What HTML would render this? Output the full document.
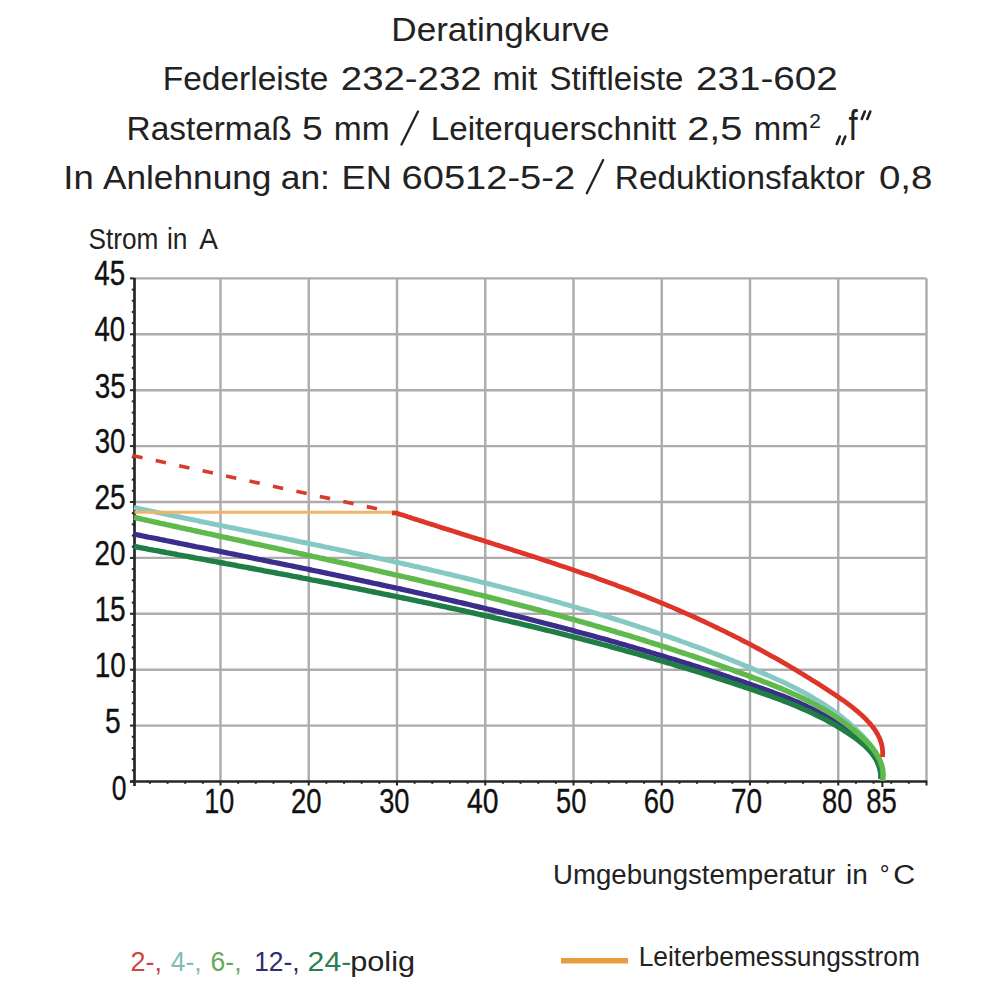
<!DOCTYPE html>
<html><head><meta charset="utf-8"><style>
html,body{margin:0;padding:0;background:#fff;width:1000px;height:1000px;overflow:hidden}
svg{display:block}
text{font-family:"Liberation Sans",sans-serif}
</style></head><body>
<svg width="1000" height="1000" viewBox="0 0 1000 1000">
<rect width="1000" height="1000" fill="#fff"/>
<g fill="#222">
<text font-size="34" transform="translate(391.30,40.90) scale(1.0319,1)">Deratingkurve</text>
<text font-size="34" transform="translate(162.80,90.10) scale(0.9847,1)">Federleiste</text>
<text font-size="34" transform="translate(340.81,90.10) scale(1.1284,1)">232-232</text>
<text font-size="34" transform="translate(492.53,90.10) scale(0.9882,1)">mit</text>
<text font-size="34" transform="translate(549.54,90.10) scale(0.9704,1)">Stiftleiste</text>
<text font-size="34" transform="translate(696.05,90.10) scale(1.1354,1)">231-602</text>
<text font-size="34" transform="translate(126.56,139.70) scale(0.9817,1)">Rastermaß</text>
<text font-size="34" transform="translate(302.11,139.70) scale(1.0938,1)">5</text>
<text font-size="34" transform="translate(333.79,139.70) scale(0.9856,1)">mm</text>
<text font-size="34" transform="translate(430.82,139.70) scale(0.9764,1)">Leiterquerschnitt</text>
<text font-size="34" transform="translate(687.15,139.70) scale(1.1685,1)">2,5</text>
<text font-size="34" transform="translate(753.78,139.70) scale(0.9692,1)">mm</text>
<text font-size="20" transform="translate(809.26,127.70) scale(1.0444,1)">2</text>
<text font-size="42" transform="translate(848.61,139.70) scale(0.7818,1)">f</text>
<text font-size="34" transform="translate(63.28,188.70) scale(1.0739,1)">In</text>
<text font-size="34" transform="translate(102.90,188.70) scale(1.0368,1)">Anlehnung</text>
<text font-size="34" transform="translate(280.74,188.70) scale(1.0400,1)">an:</text>
<text font-size="34" transform="translate(341.50,188.70) scale(1.0651,1)">EN</text>
<text font-size="34" transform="translate(401.52,188.70) scale(1.1204,1)">60512-5-2</text>
<text font-size="34" transform="translate(614.86,188.70) scale(0.9805,1)">Reduktionsfaktor</text>
<text font-size="34" transform="translate(878.90,188.70) scale(1.1326,1)">0,8</text>
<text font-size="29" transform="translate(88.54,249.10) scale(0.9041,1)">Strom</text>
<text font-size="29" transform="translate(166.98,249.10) scale(0.9081,1)">in</text>
<text font-size="29" transform="translate(199.20,249.10) scale(0.9684,1)">A</text>
<text font-size="28" transform="translate(553.03,884.20) scale(0.9859,1)">Umgebungstemperatur</text>
<text font-size="28" transform="translate(846.00,884.20) scale(1.0000,1)">in</text>
<text font-size="28" transform="translate(879.69,884.20) scale(0.8750,1)">°</text>
<text font-size="28" transform="translate(893.37,884.20) scale(1.0857,1)">C</text>
<text font-size="28.5" transform="translate(638.69,966.20) scale(0.9249,1)">Leiterbemessungsstrom</text>
<text font-size="28.5" fill="#cf4540" transform="translate(130.58,971.20) scale(0.9483,1)">2-,</text>
<text font-size="28.5" fill="#7fbdb6" transform="translate(170.74,971.20) scale(0.9267,1)">4-,</text>
<text font-size="28.5" fill="#6aa858" transform="translate(210.60,971.20) scale(0.9310,1)">6-,</text>
<text font-size="28.5" fill="#2f2d6e" transform="translate(254.15,971.20) scale(0.9258,1)">12-,</text>
<text font-size="28.5" fill="#2c7d55" transform="translate(307.61,971.20) scale(1.0597,1)">24-</text>
<text font-size="28.5" transform="translate(350.25,971.20) scale(1.0761,1)">polig</text>
</g>
<g stroke="#222" stroke-width="2.3" stroke-linecap="round"><line x1="401.5" y1="144.5" x2="418" y2="111.5"/><line x1="586.8" y1="193.2" x2="603.2" y2="160"/></g>
<g stroke="#222" stroke-width="2.6" stroke-linecap="round"><line x1="836.8" y1="144" x2="839.8" y2="136.5"/><line x1="842.3" y1="144" x2="845.3" y2="136.5"/><line x1="861.8" y1="119" x2="864.8" y2="111.5"/><line x1="867.3" y1="119" x2="870.3" y2="111.5"/></g>
<g stroke="#acacac" stroke-width="2.4">
<line x1="134.5" y1="725.60" x2="926.50" y2="725.60"/>
<line x1="134.5" y1="669.70" x2="926.50" y2="669.70"/>
<line x1="134.5" y1="613.80" x2="926.50" y2="613.80"/>
<line x1="134.5" y1="557.90" x2="926.50" y2="557.90"/>
<line x1="134.5" y1="502.00" x2="926.50" y2="502.00"/>
<line x1="134.5" y1="446.10" x2="926.50" y2="446.10"/>
<line x1="134.5" y1="390.20" x2="926.50" y2="390.20"/>
<line x1="134.5" y1="334.30" x2="926.50" y2="334.30"/>
<line x1="134.5" y1="278.40" x2="926.50" y2="278.40"/>
<line x1="220.50" y1="278.40" x2="220.50" y2="781.5"/>
<line x1="308.75" y1="278.40" x2="308.75" y2="781.5"/>
<line x1="397.00" y1="278.40" x2="397.00" y2="781.5"/>
<line x1="485.25" y1="278.40" x2="485.25" y2="781.5"/>
<line x1="573.50" y1="278.40" x2="573.50" y2="781.5"/>
<line x1="661.75" y1="278.40" x2="661.75" y2="781.5"/>
<line x1="750.00" y1="278.40" x2="750.00" y2="781.5"/>
<line x1="838.25" y1="278.40" x2="838.25" y2="781.5"/>
<line x1="926.50" y1="278.40" x2="926.50" y2="781.5"/>
</g>
<g stroke="#262626" stroke-width="2.7">
<line x1="134.5" y1="277.90" x2="134.5" y2="786"/>
<line x1="130" y1="781.5" x2="927.30" y2="781.5"/>
</g>
<g stroke="#262626" stroke-width="2">
<line x1="130" y1="781.50" x2="134.5" y2="781.50"/>
<line x1="131.8" y1="770.32" x2="134.5" y2="770.32"/>
<line x1="131.8" y1="759.14" x2="134.5" y2="759.14"/>
<line x1="131.8" y1="747.96" x2="134.5" y2="747.96"/>
<line x1="131.8" y1="736.78" x2="134.5" y2="736.78"/>
<line x1="130" y1="725.60" x2="134.5" y2="725.60"/>
<line x1="131.8" y1="714.42" x2="134.5" y2="714.42"/>
<line x1="131.8" y1="703.24" x2="134.5" y2="703.24"/>
<line x1="131.8" y1="692.06" x2="134.5" y2="692.06"/>
<line x1="131.8" y1="680.88" x2="134.5" y2="680.88"/>
<line x1="130" y1="669.70" x2="134.5" y2="669.70"/>
<line x1="131.8" y1="658.52" x2="134.5" y2="658.52"/>
<line x1="131.8" y1="647.34" x2="134.5" y2="647.34"/>
<line x1="131.8" y1="636.16" x2="134.5" y2="636.16"/>
<line x1="131.8" y1="624.98" x2="134.5" y2="624.98"/>
<line x1="130" y1="613.80" x2="134.5" y2="613.80"/>
<line x1="131.8" y1="602.62" x2="134.5" y2="602.62"/>
<line x1="131.8" y1="591.44" x2="134.5" y2="591.44"/>
<line x1="131.8" y1="580.26" x2="134.5" y2="580.26"/>
<line x1="131.8" y1="569.08" x2="134.5" y2="569.08"/>
<line x1="130" y1="557.90" x2="134.5" y2="557.90"/>
<line x1="131.8" y1="546.72" x2="134.5" y2="546.72"/>
<line x1="131.8" y1="535.54" x2="134.5" y2="535.54"/>
<line x1="131.8" y1="524.36" x2="134.5" y2="524.36"/>
<line x1="131.8" y1="513.18" x2="134.5" y2="513.18"/>
<line x1="130" y1="502.00" x2="134.5" y2="502.00"/>
<line x1="131.8" y1="490.82" x2="134.5" y2="490.82"/>
<line x1="131.8" y1="479.64" x2="134.5" y2="479.64"/>
<line x1="131.8" y1="468.46" x2="134.5" y2="468.46"/>
<line x1="131.8" y1="457.28" x2="134.5" y2="457.28"/>
<line x1="130" y1="446.10" x2="134.5" y2="446.10"/>
<line x1="131.8" y1="434.92" x2="134.5" y2="434.92"/>
<line x1="131.8" y1="423.74" x2="134.5" y2="423.74"/>
<line x1="131.8" y1="412.56" x2="134.5" y2="412.56"/>
<line x1="131.8" y1="401.38" x2="134.5" y2="401.38"/>
<line x1="130" y1="390.20" x2="134.5" y2="390.20"/>
<line x1="131.8" y1="379.02" x2="134.5" y2="379.02"/>
<line x1="131.8" y1="367.84" x2="134.5" y2="367.84"/>
<line x1="131.8" y1="356.66" x2="134.5" y2="356.66"/>
<line x1="131.8" y1="345.48" x2="134.5" y2="345.48"/>
<line x1="130" y1="334.30" x2="134.5" y2="334.30"/>
<line x1="131.8" y1="323.12" x2="134.5" y2="323.12"/>
<line x1="131.8" y1="311.94" x2="134.5" y2="311.94"/>
<line x1="131.8" y1="300.76" x2="134.5" y2="300.76"/>
<line x1="131.8" y1="289.58" x2="134.5" y2="289.58"/>
<line x1="130" y1="278.40" x2="134.5" y2="278.40"/>
<line x1="149.90" y1="781.5" x2="149.90" y2="783.8"/>
<line x1="167.55" y1="781.5" x2="167.55" y2="783.8"/>
<line x1="185.20" y1="781.5" x2="185.20" y2="783.8"/>
<line x1="202.85" y1="781.5" x2="202.85" y2="783.8"/>
<line x1="220.50" y1="781.5" x2="220.50" y2="785.5"/>
<line x1="238.15" y1="781.5" x2="238.15" y2="783.8"/>
<line x1="255.80" y1="781.5" x2="255.80" y2="783.8"/>
<line x1="273.45" y1="781.5" x2="273.45" y2="783.8"/>
<line x1="291.10" y1="781.5" x2="291.10" y2="783.8"/>
<line x1="308.75" y1="781.5" x2="308.75" y2="785.5"/>
<line x1="326.40" y1="781.5" x2="326.40" y2="783.8"/>
<line x1="344.05" y1="781.5" x2="344.05" y2="783.8"/>
<line x1="361.70" y1="781.5" x2="361.70" y2="783.8"/>
<line x1="379.35" y1="781.5" x2="379.35" y2="783.8"/>
<line x1="397.00" y1="781.5" x2="397.00" y2="785.5"/>
<line x1="414.65" y1="781.5" x2="414.65" y2="783.8"/>
<line x1="432.30" y1="781.5" x2="432.30" y2="783.8"/>
<line x1="449.95" y1="781.5" x2="449.95" y2="783.8"/>
<line x1="467.60" y1="781.5" x2="467.60" y2="783.8"/>
<line x1="485.25" y1="781.5" x2="485.25" y2="785.5"/>
<line x1="502.90" y1="781.5" x2="502.90" y2="783.8"/>
<line x1="520.55" y1="781.5" x2="520.55" y2="783.8"/>
<line x1="538.20" y1="781.5" x2="538.20" y2="783.8"/>
<line x1="555.85" y1="781.5" x2="555.85" y2="783.8"/>
<line x1="573.50" y1="781.5" x2="573.50" y2="785.5"/>
<line x1="591.15" y1="781.5" x2="591.15" y2="783.8"/>
<line x1="608.80" y1="781.5" x2="608.80" y2="783.8"/>
<line x1="626.45" y1="781.5" x2="626.45" y2="783.8"/>
<line x1="644.10" y1="781.5" x2="644.10" y2="783.8"/>
<line x1="661.75" y1="781.5" x2="661.75" y2="785.5"/>
<line x1="679.40" y1="781.5" x2="679.40" y2="783.8"/>
<line x1="697.05" y1="781.5" x2="697.05" y2="783.8"/>
<line x1="714.70" y1="781.5" x2="714.70" y2="783.8"/>
<line x1="732.35" y1="781.5" x2="732.35" y2="783.8"/>
<line x1="750.00" y1="781.5" x2="750.00" y2="785.5"/>
<line x1="767.65" y1="781.5" x2="767.65" y2="783.8"/>
<line x1="785.30" y1="781.5" x2="785.30" y2="783.8"/>
<line x1="802.95" y1="781.5" x2="802.95" y2="783.8"/>
<line x1="820.60" y1="781.5" x2="820.60" y2="783.8"/>
<line x1="838.25" y1="781.5" x2="838.25" y2="785.5"/>
<line x1="855.90" y1="781.5" x2="855.90" y2="783.8"/>
<line x1="873.55" y1="781.5" x2="873.55" y2="783.8"/>
<line x1="891.20" y1="781.5" x2="891.20" y2="783.8"/>
<line x1="908.85" y1="781.5" x2="908.85" y2="783.8"/>
<line x1="926.50" y1="781.5" x2="926.50" y2="785.5"/>
<line x1="882.37" y1="781.5" x2="882.37" y2="787"/>
</g>
<g fill="#111" font-size="35.8" stroke="#111" stroke-width="0.35">
<text transform="translate(94.22,285.45) scale(0.7760,1)">45</text>
<text transform="translate(94.47,340.75) scale(0.7722,1)">40</text>
<text transform="translate(94.63,398.00) scale(0.7796,1)">35</text>
<text transform="translate(94.64,452.75) scale(0.7743,1)">30</text>
<text transform="translate(94.43,509.00) scale(0.7849,1)">25</text>
<text transform="translate(94.44,564.75) scale(0.7796,1)">20</text>
<text transform="translate(94.39,621.00) scale(0.7859,1)">15</text>
<text transform="translate(94.65,676.65) scale(0.7804,1)">10</text>
<text transform="translate(105.12,733.25) scale(0.7882,1)">5</text>
<text transform="translate(111.79,800.35) scale(0.7412,1)">0</text>
<text transform="translate(204.23,813.25) scale(0.7524,1)">10</text>
<text transform="translate(290.96,813.25) scale(0.7673,1)">20</text>
<text transform="translate(379.16,813.25) scale(0.7622,1)">30</text>
<text transform="translate(466.91,813.25) scale(0.7894,1)">40</text>
<text transform="translate(555.96,813.25) scale(0.7622,1)">50</text>
<text transform="translate(643.76,813.25) scale(0.7673,1)">60</text>
<text transform="translate(730.93,813.25) scale(0.7837,1)">70</text>
<text transform="translate(821.96,813.25) scale(0.7622,1)">80</text>
<text transform="translate(866.35,813.25) scale(0.7673,1)">85</text>
</g>
<line x1="132.25" y1="455.5" x2="389.00" y2="511.47" stroke="#d83a2c" stroke-width="3.6" stroke-dasharray="10.5 13.5"/>
<g fill="none" stroke-linejoin="round" stroke-linecap="butt">
<path d="M134.0,507.5 L137.0,508.1 L139.9,508.8 L142.9,509.4 L145.8,510.0 L148.8,510.6 L151.7,511.3 L154.7,511.9 L157.7,512.5 L160.6,513.1 L163.6,513.7 L166.5,514.3 L169.5,515.0 L172.4,515.6 L175.4,516.2 L178.3,516.8 L181.3,517.4 L184.3,518.0 L187.2,518.6 L190.2,519.2 L193.1,519.8 L196.1,520.4 L199.0,521.0 L202.0,521.7 L205.0,522.3 L207.9,522.9 L210.9,523.5 L213.8,524.1 L216.8,524.7 L219.7,525.3 L222.7,525.9 L225.6,526.5 L228.6,527.1 L231.6,527.7 L234.5,528.3 L237.5,528.9 L240.4,529.5 L243.4,530.1 L246.3,530.7 L249.3,531.3 L252.2,531.9 L255.2,532.5 L258.1,533.1 L261.1,533.7 L264.1,534.3 L267.0,534.9 L270.0,535.5 L272.9,536.1 L275.9,536.7 L278.8,537.3 L281.8,537.9 L284.7,538.5 L287.7,539.1 L290.6,539.7 L293.6,540.3 L296.5,541.0 L299.5,541.6 L302.4,542.2 L305.4,542.8 L308.3,543.4 L311.3,544.0 L314.2,544.6 L317.2,545.2 L320.1,545.8 L323.1,546.5 L326.0,547.1 L328.9,547.7 L331.9,548.3 L334.8,548.9 L337.8,549.5 L340.7,550.2 L343.7,550.8 L346.6,551.4 L349.6,552.0 L352.5,552.7 L355.4,553.3 L358.4,553.9 L361.3,554.5 L364.3,555.2 L367.2,555.8 L370.1,556.4 L373.1,557.1 L376.0,557.7 L379.0,558.4 L381.9,559.0 L384.8,559.6 L387.8,560.3 L390.7,560.9 L393.7,561.6 L396.6,562.2 L399.5,562.9 L402.5,563.5 L405.4,564.2 L408.3,564.8 L411.3,565.5 L414.2,566.2 L417.1,566.8 L420.0,567.5 L423.0,568.2 L425.9,568.8 L428.8,569.5 L431.8,570.2 L434.7,570.9 L437.6,571.5 L440.5,572.2 L443.5,572.9 L446.4,573.6 L449.3,574.3 L452.2,575.0 L455.2,575.7 L458.1,576.4 L461.0,577.1 L463.9,577.8 L466.8,578.5 L469.8,579.2 L472.7,579.9 L475.6,580.6 L478.5,581.3 L481.4,582.1 L484.3,582.8 L487.3,583.5 L490.2,584.2 L493.1,585.0 L496.0,585.7 L498.9,586.4 L501.8,587.2 L504.7,587.9 L507.6,588.7 L510.6,589.4 L513.5,590.2 L516.4,590.9 L519.3,591.7 L522.2,592.5 L525.1,593.2 L528.0,594.0 L530.9,594.8 L533.8,595.6 L536.7,596.3 L539.6,597.1 L542.5,597.9 L545.4,598.7 L548.3,599.5 L551.2,600.3 L554.1,601.1 L557.0,601.9 L559.8,602.7 L562.7,603.6 L565.6,604.4 L568.5,605.2 L571.4,606.0 L574.3,606.9 L577.2,607.7 L580.1,608.6 L583.0,609.4 L585.8,610.2 L588.7,611.1 L591.6,612.0 L594.5,612.8 L597.4,613.7 L600.2,614.6 L603.1,615.4 L606.0,616.3 L608.9,617.2 L611.7,618.1 L614.6,619.0 L617.5,619.9 L620.4,620.8 L623.2,621.7 L626.1,622.6 L629.0,623.5 L631.8,624.5 L634.7,625.4 L637.6,626.3 L640.4,627.3 L643.3,628.2 L646.1,629.2 L649.0,630.1 L651.9,631.1 L654.7,632.0 L657.6,633.0 L660.4,634.0 L663.3,635.0 L666.1,635.9 L669.0,636.9 L671.8,637.9 L674.7,638.9 L677.5,639.9 L680.4,641.0 L683.2,642.0 L686.1,643.0 L688.9,644.0 L691.7,645.1 L694.6,646.1 L697.4,647.1 L700.2,648.2 L703.1,649.2 L705.9,650.3 L708.8,651.4 L711.6,652.5 L714.4,653.5 L717.2,654.6 L720.1,655.7 L722.9,656.8 L725.7,657.9 L728.5,659.0 L731.4,660.1 L734.2,661.3 L737.0,662.4 L739.8,663.5 L742.6,664.7 L745.4,665.8 L748.3,667.0 L751.1,668.1 L753.9,669.3 L756.7,670.5 L759.5,671.7 L762.3,672.9 L765.1,674.1 L767.9,675.3 L770.7,676.5 L773.4,677.7 L776.2,679.0 L779.0,680.2 L781.7,681.5 L784.5,682.8 L787.2,684.1 L789.9,685.5 L792.7,686.8 L795.4,688.2 L798.0,689.5 L800.7,690.9 L803.4,692.4 L806.0,693.8 L808.7,695.3 L811.3,696.7 L813.9,698.3 L816.5,699.8 L819.0,701.4 L821.6,702.9 L824.1,704.6 L826.6,706.2 L829.1,707.9 L831.6,709.6 L834.0,711.3 L836.4,713.0 L838.8,714.8 L841.2,716.7 L843.5,718.5 L845.9,720.4 L848.2,722.3 L850.4,724.3 L852.7,726.3 L854.9,728.3 L857.1,730.4 L859.2,732.5 L861.3,734.6 L863.4,736.8 L865.5,739.0 L867.5,741.3 L869.4,743.6 L871.2,746.0 L873.0,748.3 L874.6,750.8 L876.1,753.3 L877.5,755.8 L878.8,758.4 L879.9,761.0 L880.9,763.7 L881.7,766.4 L882.2,769.2 L882.6,772.0 L882.8,774.9 L882.8,777.8 L882.6,780.8" stroke="#86c8c4" stroke-width="5"/>
<line x1="134.5" y1="512.3" x2="392" y2="512.3" stroke="#f0b468" stroke-width="3"/>
<path d="M134.0,534.2 L137.0,534.8 L139.9,535.4 L142.9,536.0 L145.8,536.6 L148.8,537.2 L151.8,537.7 L154.7,538.3 L157.7,538.9 L160.6,539.5 L163.6,540.1 L166.6,540.7 L169.5,541.3 L172.5,541.9 L175.5,542.5 L178.4,543.1 L181.4,543.7 L184.3,544.3 L187.3,544.9 L190.3,545.5 L193.2,546.1 L196.2,546.7 L199.1,547.2 L202.1,547.8 L205.1,548.4 L208.0,549.0 L211.0,549.6 L214.0,550.2 L216.9,550.8 L219.9,551.4 L222.8,552.0 L225.8,552.6 L228.8,553.2 L231.7,553.8 L234.7,554.4 L237.6,555.0 L240.6,555.6 L243.6,556.2 L246.5,556.8 L249.5,557.4 L252.4,558.0 L255.4,558.6 L258.4,559.2 L261.3,559.8 L264.3,560.4 L267.2,561.0 L270.2,561.6 L273.2,562.2 L276.1,562.8 L279.1,563.4 L282.0,564.0 L285.0,564.6 L288.0,565.2 L290.9,565.8 L293.9,566.4 L296.8,567.0 L299.8,567.6 L302.7,568.2 L305.7,568.8 L308.7,569.4 L311.6,570.1 L314.6,570.7 L317.5,571.3 L320.5,571.9 L323.4,572.5 L326.4,573.1 L329.3,573.8 L332.3,574.4 L335.2,575.0 L338.2,575.6 L341.2,576.2 L344.1,576.9 L347.1,577.5 L350.0,578.1 L353.0,578.7 L355.9,579.4 L358.9,580.0 L361.8,580.6 L364.8,581.3 L367.7,581.9 L370.7,582.5 L373.6,583.2 L376.6,583.8 L379.5,584.4 L382.5,585.1 L385.4,585.7 L388.4,586.4 L391.3,587.0 L394.3,587.6 L397.2,588.3 L400.2,588.9 L403.1,589.6 L406.1,590.2 L409.0,590.9 L411.9,591.5 L414.9,592.2 L417.8,592.9 L420.8,593.5 L423.7,594.2 L426.7,594.8 L429.6,595.5 L432.5,596.2 L435.5,596.8 L438.4,597.5 L441.4,598.2 L444.3,598.9 L447.2,599.5 L450.2,600.2 L453.1,600.9 L456.1,601.6 L459.0,602.3 L461.9,602.9 L464.9,603.6 L467.8,604.3 L470.7,605.0 L473.7,605.7 L476.6,606.4 L479.5,607.1 L482.5,607.8 L485.4,608.5 L488.3,609.2 L491.3,609.9 L494.2,610.6 L497.1,611.3 L500.1,612.0 L503.0,612.7 L505.9,613.5 L508.8,614.2 L511.8,614.9 L514.7,615.6 L517.6,616.3 L520.5,617.1 L523.5,617.8 L526.4,618.5 L529.3,619.3 L532.2,620.0 L535.2,620.8 L538.1,621.5 L541.0,622.2 L543.9,623.0 L546.8,623.7 L549.8,624.5 L552.7,625.3 L555.6,626.0 L558.5,626.8 L561.4,627.5 L564.3,628.3 L567.3,629.1 L570.2,629.8 L573.1,630.6 L576.0,631.4 L578.9,632.2 L581.8,633.0 L584.7,633.7 L587.6,634.5 L590.5,635.3 L593.4,636.1 L596.4,636.9 L599.3,637.7 L602.2,638.5 L605.1,639.3 L608.0,640.1 L610.9,641.0 L613.8,641.8 L616.7,642.6 L619.6,643.4 L622.5,644.2 L625.4,645.1 L628.3,645.9 L631.2,646.7 L634.1,647.6 L637.0,648.4 L639.8,649.3 L642.7,650.1 L645.6,651.0 L648.5,651.8 L651.4,652.7 L654.3,653.5 L657.2,654.4 L660.1,655.3 L663.0,656.1 L665.8,657.0 L668.7,657.9 L671.6,658.8 L674.5,659.6 L677.4,660.5 L680.3,661.4 L683.1,662.3 L686.0,663.2 L688.9,664.1 L691.8,665.0 L694.7,665.9 L697.5,666.8 L700.4,667.8 L703.3,668.7 L706.1,669.6 L709.0,670.5 L711.9,671.5 L714.8,672.4 L717.6,673.3 L720.5,674.3 L723.4,675.2 L726.2,676.2 L729.1,677.1 L732.0,678.1 L734.8,679.1 L737.7,680.0 L740.5,681.0 L743.4,682.0 L746.2,683.0 L749.1,683.9 L752.0,684.9 L754.8,685.9 L757.7,686.9 L760.5,687.9 L763.4,688.9 L766.2,689.9 L769.0,691.0 L771.9,692.0 L774.7,693.1 L777.5,694.1 L780.3,695.2 L783.2,696.3 L786.0,697.4 L788.8,698.5 L791.5,699.7 L794.3,700.9 L797.1,702.0 L799.8,703.2 L802.6,704.5 L805.3,705.7 L808.1,707.0 L810.8,708.3 L813.5,709.6 L816.2,711.0 L818.8,712.3 L821.5,713.7 L824.1,715.2 L826.8,716.7 L829.4,718.2 L832.0,719.7 L834.6,721.2 L837.1,722.8 L839.7,724.5 L842.2,726.2 L844.7,727.9 L847.2,729.6 L849.7,731.4 L852.1,733.2 L854.5,735.1 L856.9,737.0 L859.3,739.0 L861.6,741.0 L863.8,743.1 L865.9,745.2 L867.9,747.4 L869.9,749.6 L871.7,751.9 L873.4,754.3 L875.0,756.7 L876.4,759.2 L877.6,761.8 L878.7,764.4 L879.6,767.2 L880.3,770.0 L880.8,772.9 L881.0,775.8 L881.1,778.9" stroke="#3b2d8c" stroke-width="5.2"/>
<path d="M134.0,546.5 L137.0,547.0 L139.9,547.6 L142.9,548.2 L145.8,548.7 L148.8,549.3 L151.8,549.8 L154.7,550.4 L157.7,550.9 L160.7,551.5 L163.6,552.0 L166.6,552.6 L169.6,553.1 L172.5,553.7 L175.5,554.2 L178.4,554.8 L181.4,555.3 L184.4,555.9 L187.3,556.4 L190.3,557.0 L193.3,557.5 L196.2,558.1 L199.2,558.6 L202.2,559.2 L205.1,559.7 L208.1,560.3 L211.0,560.8 L214.0,561.4 L217.0,561.9 L219.9,562.5 L222.9,563.0 L225.9,563.6 L228.8,564.1 L231.8,564.7 L234.8,565.2 L237.7,565.8 L240.7,566.3 L243.6,566.9 L246.6,567.4 L249.6,568.0 L252.5,568.5 L255.5,569.1 L258.5,569.7 L261.4,570.2 L264.4,570.8 L267.3,571.3 L270.3,571.9 L273.3,572.4 L276.2,573.0 L279.2,573.6 L282.1,574.1 L285.1,574.7 L288.1,575.2 L291.0,575.8 L294.0,576.4 L296.9,576.9 L299.9,577.5 L302.9,578.1 L305.8,578.6 L308.8,579.2 L311.7,579.8 L314.7,580.3 L317.7,580.9 L320.6,581.5 L323.6,582.1 L326.5,582.6 L329.5,583.2 L332.5,583.8 L335.4,584.4 L338.4,584.9 L341.3,585.5 L344.3,586.1 L347.2,586.7 L350.2,587.3 L353.1,587.8 L356.1,588.4 L359.1,589.0 L362.0,589.6 L365.0,590.2 L367.9,590.8 L370.9,591.4 L373.8,592.0 L376.8,592.6 L379.7,593.2 L382.7,593.8 L385.6,594.4 L388.6,595.0 L391.5,595.6 L394.5,596.2 L397.4,596.8 L400.4,597.4 L403.3,598.0 L406.3,598.6 L409.2,599.2 L412.2,599.8 L415.1,600.4 L418.1,601.1 L421.0,601.7 L424.0,602.3 L426.9,602.9 L429.9,603.5 L432.8,604.2 L435.7,604.8 L438.7,605.4 L441.6,606.1 L444.6,606.7 L447.5,607.3 L450.5,608.0 L453.4,608.6 L456.3,609.2 L459.3,609.9 L462.2,610.5 L465.2,611.2 L468.1,611.8 L471.0,612.5 L474.0,613.1 L476.9,613.8 L479.8,614.5 L482.8,615.1 L485.7,615.8 L488.6,616.4 L491.6,617.1 L494.5,617.8 L497.4,618.5 L500.4,619.1 L503.3,619.8 L506.2,620.5 L509.2,621.2 L512.1,621.9 L515.0,622.5 L518.0,623.2 L520.9,623.9 L523.8,624.6 L526.7,625.3 L529.7,626.0 L532.6,626.7 L535.5,627.4 L538.4,628.1 L541.4,628.9 L544.3,629.6 L547.2,630.3 L550.1,631.0 L553.0,631.7 L556.0,632.4 L558.9,633.2 L561.8,633.9 L564.7,634.6 L567.6,635.4 L570.5,636.1 L573.5,636.9 L576.4,637.6 L579.3,638.4 L582.2,639.1 L585.1,639.9 L588.0,640.6 L590.9,641.4 L593.8,642.1 L596.7,642.9 L599.6,643.7 L602.6,644.5 L605.5,645.2 L608.4,646.0 L611.3,646.8 L614.2,647.6 L617.1,648.4 L620.0,649.2 L622.9,650.0 L625.8,650.8 L628.7,651.6 L631.6,652.4 L634.5,653.2 L637.4,654.0 L640.3,654.8 L643.2,655.6 L646.1,656.5 L648.9,657.3 L651.8,658.1 L654.7,659.0 L657.6,659.8 L660.5,660.6 L663.4,661.5 L666.3,662.3 L669.2,663.2 L672.0,664.0 L674.9,664.9 L677.8,665.8 L680.7,666.6 L683.6,667.5 L686.5,668.4 L689.3,669.3 L692.2,670.2 L695.1,671.0 L698.0,671.9 L700.8,672.8 L703.7,673.7 L706.6,674.6 L709.5,675.5 L712.3,676.5 L715.2,677.4 L718.1,678.3 L720.9,679.2 L723.8,680.1 L726.7,681.1 L729.5,682.0 L732.4,683.0 L735.3,683.9 L738.1,684.9 L741.0,685.8 L743.8,686.8 L746.7,687.7 L749.5,688.7 L752.4,689.7 L755.3,690.6 L758.1,691.6 L761.0,692.6 L763.8,693.6 L766.6,694.6 L769.5,695.6 L772.3,696.7 L775.2,697.7 L778.0,698.8 L780.8,699.8 L783.6,700.9 L786.4,702.0 L789.2,703.1 L792.0,704.2 L794.8,705.3 L797.6,706.5 L800.3,707.7 L803.1,708.9 L805.8,710.1 L808.6,711.3 L811.3,712.6 L814.0,713.9 L816.7,715.2 L819.4,716.5 L822.1,717.9 L824.7,719.2 L827.4,720.6 L830.0,722.1 L832.7,723.6 L835.3,725.0 L837.9,726.6 L840.4,728.1 L843.0,729.7 L845.5,731.4 L848.1,733.0 L850.6,734.7 L853.1,736.4 L855.5,738.2 L858.0,740.0 L860.3,741.9 L862.6,743.8 L864.9,745.8 L867.0,747.8 L869.0,749.9 L871.0,752.1 L872.7,754.4 L874.4,756.7 L875.9,759.1 L877.2,761.6 L878.4,764.3 L879.4,767.0 L880.1,769.8 L880.7,772.7 L881.0,775.8 L881.1,779.0" stroke="#1f7d45" stroke-width="5.4"/>
<path d="M134.0,517.4 L136.9,518.0 L139.9,518.7 L142.8,519.4 L145.8,520.0 L148.7,520.7 L151.7,521.3 L154.6,522.0 L157.6,522.6 L160.5,523.3 L163.5,523.9 L166.4,524.6 L169.3,525.2 L172.3,525.9 L175.2,526.5 L178.2,527.1 L181.1,527.8 L184.1,528.4 L187.0,529.1 L190.0,529.7 L192.9,530.4 L195.9,531.0 L198.8,531.6 L201.8,532.3 L204.7,532.9 L207.7,533.6 L210.6,534.2 L213.6,534.8 L216.5,535.5 L219.4,536.1 L222.4,536.8 L225.3,537.4 L228.3,538.0 L231.2,538.7 L234.2,539.3 L237.1,539.9 L240.1,540.6 L243.0,541.2 L246.0,541.9 L248.9,542.5 L251.9,543.1 L254.8,543.8 L257.8,544.4 L260.7,545.0 L263.6,545.7 L266.6,546.3 L269.5,547.0 L272.5,547.6 L275.4,548.2 L278.4,548.9 L281.3,549.5 L284.3,550.2 L287.2,550.8 L290.2,551.4 L293.1,552.1 L296.1,552.7 L299.0,553.4 L301.9,554.0 L304.9,554.6 L307.8,555.3 L310.8,555.9 L313.7,556.6 L316.7,557.2 L319.6,557.9 L322.5,558.5 L325.5,559.2 L328.4,559.8 L331.4,560.5 L334.3,561.1 L337.3,561.8 L340.2,562.4 L343.1,563.1 L346.1,563.7 L349.0,564.4 L352.0,565.0 L354.9,565.7 L357.8,566.3 L360.8,567.0 L363.7,567.6 L366.7,568.3 L369.6,569.0 L372.5,569.6 L375.5,570.3 L378.4,571.0 L381.3,571.6 L384.3,572.3 L387.2,573.0 L390.2,573.6 L393.1,574.3 L396.0,575.0 L399.0,575.6 L401.9,576.3 L404.8,577.0 L407.8,577.7 L410.7,578.4 L413.6,579.0 L416.6,579.7 L419.5,580.4 L422.4,581.1 L425.3,581.8 L428.3,582.5 L431.2,583.2 L434.1,583.9 L437.1,584.6 L440.0,585.2 L442.9,585.9 L445.8,586.6 L448.8,587.3 L451.7,588.1 L454.6,588.8 L457.6,589.5 L460.5,590.2 L463.4,590.9 L466.3,591.6 L469.2,592.3 L472.2,593.0 L475.1,593.8 L478.0,594.5 L480.9,595.2 L483.9,595.9 L486.8,596.7 L489.7,597.4 L492.6,598.1 L495.5,598.9 L498.4,599.6 L501.4,600.3 L504.3,601.1 L507.2,601.8 L510.1,602.6 L513.0,603.3 L515.9,604.1 L518.8,604.8 L521.7,605.6 L524.7,606.4 L527.6,607.1 L530.5,607.9 L533.4,608.7 L536.3,609.4 L539.2,610.2 L542.1,611.0 L545.0,611.8 L547.9,612.6 L550.8,613.3 L553.7,614.1 L556.6,614.9 L559.5,615.7 L562.4,616.5 L565.3,617.3 L568.2,618.1 L571.1,618.9 L574.0,619.7 L576.9,620.5 L579.8,621.4 L582.7,622.2 L585.6,623.0 L588.5,623.8 L591.4,624.7 L594.3,625.5 L597.2,626.3 L600.1,627.2 L603.0,628.0 L605.8,628.9 L608.7,629.7 L611.6,630.6 L614.5,631.4 L617.4,632.3 L620.3,633.1 L623.2,634.0 L626.0,634.9 L628.9,635.7 L631.8,636.6 L634.7,637.5 L637.6,638.4 L640.4,639.3 L643.3,640.2 L646.2,641.1 L649.1,642.0 L651.9,642.9 L654.8,643.8 L657.7,644.7 L660.6,645.6 L663.4,646.5 L666.3,647.4 L669.2,648.4 L672.0,649.3 L674.9,650.2 L677.8,651.2 L680.6,652.1 L683.5,653.1 L686.3,654.0 L689.2,655.0 L692.1,655.9 L694.9,656.9 L697.8,657.9 L700.6,658.8 L703.5,659.8 L706.3,660.8 L709.2,661.8 L712.0,662.8 L714.9,663.8 L717.7,664.8 L720.6,665.8 L723.4,666.8 L726.3,667.8 L729.1,668.8 L732.0,669.8 L734.8,670.9 L737.6,671.9 L740.5,672.9 L743.3,674.0 L746.2,675.0 L749.0,676.1 L751.8,677.1 L754.7,678.2 L757.5,679.2 L760.3,680.3 L763.1,681.4 L766.0,682.5 L768.8,683.6 L771.6,684.7 L774.4,685.8 L777.2,687.0 L780.0,688.1 L782.8,689.3 L785.6,690.5 L788.3,691.7 L791.1,692.9 L793.8,694.1 L796.6,695.3 L799.3,696.6 L802.0,697.9 L804.7,699.2 L807.4,700.5 L810.1,701.9 L812.7,703.3 L815.4,704.7 L818.0,706.1 L820.6,707.6 L823.2,709.1 L825.8,710.6 L828.4,712.1 L830.9,713.7 L833.5,715.3 L836.0,716.9 L838.4,718.6 L840.9,720.3 L843.4,722.1 L845.8,723.8 L848.2,725.7 L850.6,727.5 L852.9,729.4 L855.2,731.3 L857.6,733.3 L859.8,735.3 L862.1,737.4 L864.3,739.5 L866.5,741.6 L868.6,743.8 L870.6,746.0 L872.5,748.3 L874.3,750.7 L876.0,753.1 L877.5,755.6 L878.9,758.1 L880.1,760.7 L881.1,763.4 L882.0,766.1 L882.6,768.9 L882.9,771.8 L883.1,774.8 L882.9,777.8 L882.5,780.9" stroke="#5fb94c" stroke-width="5.4"/>
<path d="M392,512.9 L397.0,513.2 L399.9,514.2 L402.8,515.1 L405.7,516.1 L408.5,517.0 L411.4,517.9 L414.3,518.9 L417.2,519.8 L420.1,520.7 L423.0,521.6 L425.9,522.6 L428.8,523.5 L431.7,524.4 L434.6,525.3 L437.5,526.3 L440.4,527.2 L443.3,528.1 L446.2,529.0 L449.1,529.9 L452.0,530.8 L454.9,531.7 L457.7,532.6 L460.6,533.6 L463.5,534.5 L466.4,535.4 L469.3,536.3 L472.2,537.2 L475.1,538.1 L478.0,539.0 L480.9,539.9 L483.7,540.8 L486.6,541.7 L489.5,542.6 L492.4,543.5 L495.3,544.5 L498.2,545.4 L501.0,546.3 L503.9,547.2 L506.8,548.1 L509.7,549.0 L512.6,549.9 L515.4,550.9 L518.3,551.8 L521.2,552.7 L524.1,553.6 L526.9,554.6 L529.8,555.5 L532.7,556.4 L535.5,557.3 L538.4,558.3 L541.3,559.2 L544.1,560.2 L547.0,561.1 L549.9,562.0 L552.7,563.0 L555.6,563.9 L558.4,564.9 L561.3,565.9 L564.1,566.8 L567.0,567.8 L569.8,568.8 L572.7,569.7 L575.5,570.7 L578.4,571.7 L581.2,572.7 L584.1,573.7 L586.9,574.6 L589.7,575.6 L592.6,576.6 L595.4,577.6 L598.2,578.7 L601.1,579.7 L603.9,580.7 L606.7,581.7 L609.5,582.7 L612.3,583.8 L615.2,584.8 L618.0,585.9 L620.8,586.9 L623.6,588.0 L626.4,589.0 L629.2,590.1 L632.0,591.2 L634.8,592.3 L637.6,593.3 L640.4,594.4 L643.2,595.5 L646.0,596.6 L648.8,597.8 L651.6,598.9 L654.4,600.0 L657.1,601.1 L659.9,602.3 L662.7,603.4 L665.5,604.6 L668.2,605.7 L671.0,606.9 L673.8,608.1 L676.5,609.3 L679.3,610.5 L682.0,611.7 L684.8,612.9 L687.5,614.1 L690.3,615.3 L693.0,616.5 L695.8,617.8 L698.5,619.0 L701.2,620.3 L704.0,621.5 L706.7,622.8 L709.4,624.1 L712.1,625.4 L714.9,626.7 L717.6,628.0 L720.3,629.3 L723.0,630.6 L725.7,631.9 L728.4,633.3 L731.1,634.6 L733.8,636.0 L736.5,637.3 L739.2,638.7 L741.8,640.1 L744.5,641.5 L747.2,642.8 L749.9,644.2 L752.5,645.7 L755.2,647.1 L757.9,648.5 L760.5,649.9 L763.2,651.4 L765.8,652.8 L768.5,654.3 L771.1,655.8 L773.7,657.2 L776.4,658.7 L779.0,660.2 L781.6,661.7 L784.2,663.2 L786.8,664.7 L789.5,666.3 L792.1,667.8 L794.7,669.3 L797.3,670.9 L799.8,672.5 L802.4,674.0 L805.0,675.6 L807.6,677.2 L810.2,678.8 L812.7,680.4 L815.3,682.0 L817.9,683.6 L820.4,685.3 L823.0,686.9 L825.5,688.6 L828.1,690.2 L830.6,691.9 L833.1,693.6 L835.7,695.3 L838.2,697.0 L840.7,698.7 L843.2,700.4 L845.6,702.2 L848.1,704.0 L850.5,705.8 L852.9,707.7 L855.2,709.6 L857.6,711.5 L859.8,713.5 L862.1,715.6 L864.3,717.6 L866.5,719.8 L868.5,722.0 L870.5,724.2 L872.4,726.5 L874.2,728.9 L875.9,731.4 L877.4,733.9 L878.7,736.5 L879.9,739.1 L880.9,741.9 L881.7,744.7 L882.3,747.7 L882.6,750.7 L882.7,753.8 L882.5,757.0" stroke="#de3429" stroke-width="4.8"/>
</g>
<g font-size="29">
<line x1="561" y1="960.8" x2="628" y2="960.8" stroke="#e89c40" stroke-width="5.5"/>
</g>
</svg>
</body></html>
